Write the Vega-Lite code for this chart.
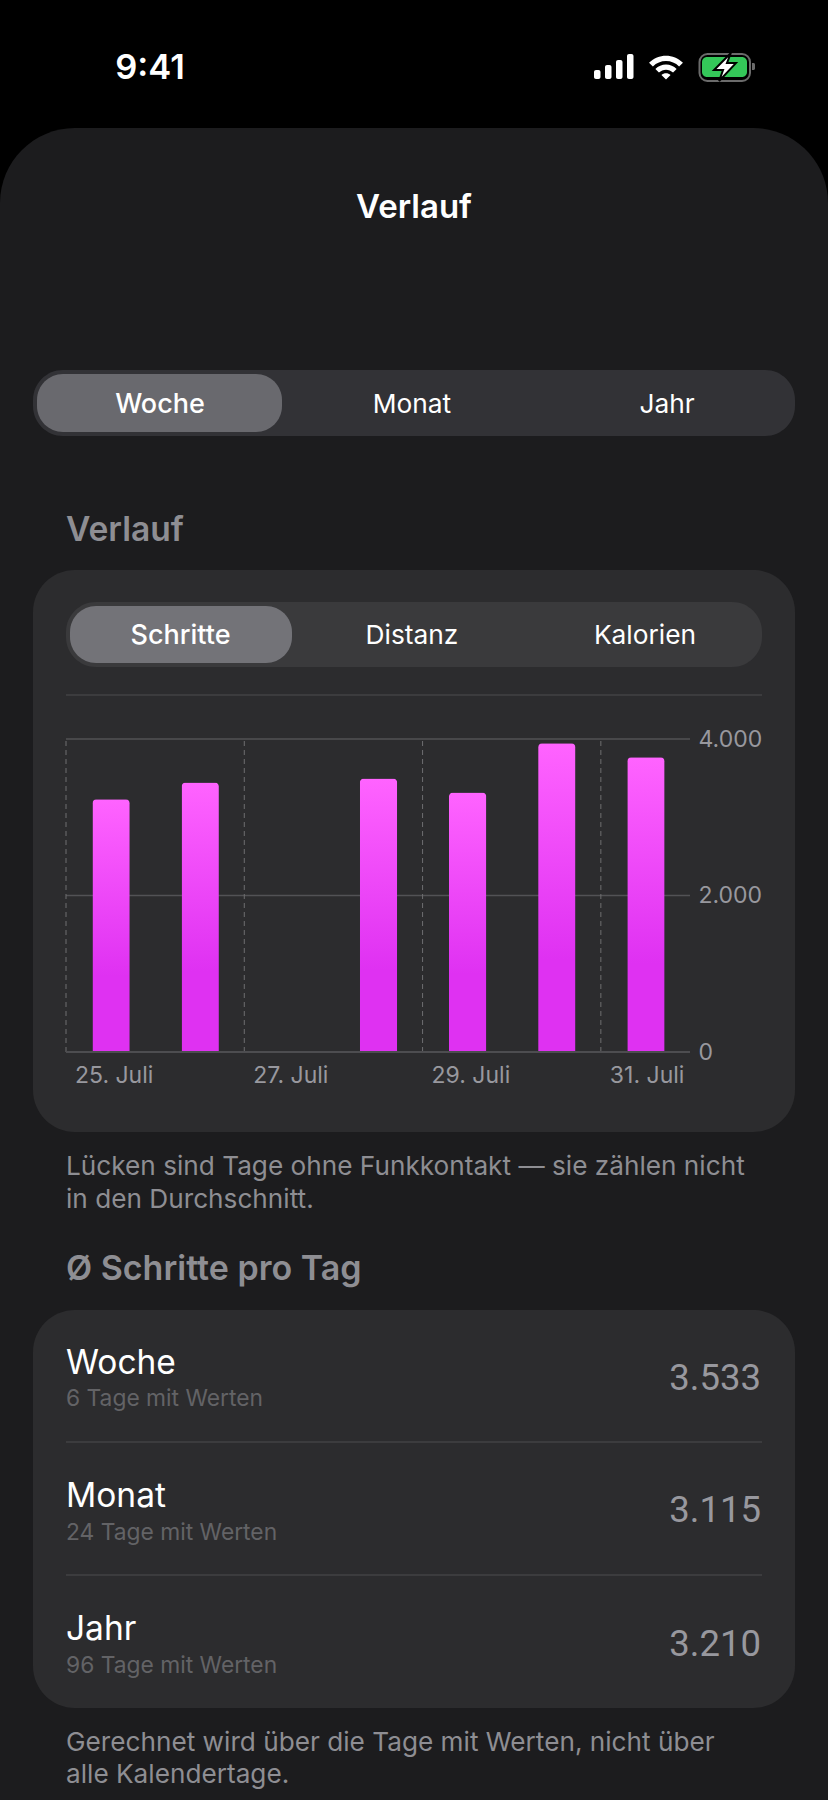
{
  "$schema": "https://vega.github.io/schema/vega-lite/v6.json",
  "width": 828,
  "height": 1800,
  "autosize": {"type": "fit", "contains": "padding"},
  "padding": 0,
  "background": "#000000",
  "config": {"view": {"stroke": null}, "font": "Inter", "text": {"baseline": "alphabetic"}},
  "resolve": {"scale": {"x": "independent", "y": "independent"}},
  "layer": [
    {
      "encoding": {
        "x": {"field": "sp", "type": "quantitative", "axis": null, "scale": {"nice": false, "domain": [1,2,3,4,5,6,7,8,9,10,11,12,13,14,15,16,17,18,19,20,21,22,23,24,25,26,27,28,29,30,31,32,33,34], "range": [0,33,37,66,70,150,160,180.5,282,292,412,414,594,600.5,605,611.5,616,622.5,627,633.5,645,666,667,699.5,702,725,747,750,752,755,761,762,795,828]}},
        "y": {"field": "ze", "type": "quantitative", "axis": null, "scale": {"nice": false, "domain": [1,2,3,4,5,6,7,8,9,10,11,12,13,14,15,16,17,18,19,20,21,22,23,24,25,26,27,28,29,30,31,32,33,34,35,36,37,38,39,40,41,42,43,44,45], "range": [54,57,60,63,65,67,70,77,79,81,128,218,370,374,412.5,432,436,541,570,602,606,644,663,667,695,1132,1175,1208,1280,1310,1374,1390,1406,1442,1507,1522,1540,1575,1640,1656,1673,1708,1751,1783,1800]}}
      },
      "layer": [
        {
          "data": {"values": [{"sp": 1, "sp2": 34, "ze": 11, "ze2": 45}]},
          "mark": {"type": "rect", "color": "#1C1C1E", "cornerRadiusTopLeft": 75, "cornerRadiusTopRight": 75},
          "encoding": {"x2": {"field": "sp2"}, "y2": {"field": "ze2"}}
        },
        {
          "data": {"values": [{"sp": 2, "sp2": 33, "ze": 19, "ze2": 26}, {"sp": 2, "sp2": 33, "ze": 30, "ze2": 42}]},
          "mark": {"type": "rect", "color": "#2C2C2E", "cornerRadius": 42},
          "encoding": {"x2": {"field": "sp2"}, "y2": {"field": "ze2"}}
        },
        {
          "data": {"values": [{"sp": 2, "sp2": 33, "ze": 13, "ze2": 17}]},
          "mark": {"type": "rect", "color": "#323236", "cornerRadius": 30},
          "encoding": {"x2": {"field": "sp2"}, "y2": {"field": "ze2"}}
        },
        {
          "data": {"values": [{"sp": 3, "sp2": 9, "ze": 14, "ze2": 16}]},
          "mark": {"type": "rect", "color": "#69696E", "cornerRadius": 26},
          "encoding": {"x2": {"field": "sp2"}, "y2": {"field": "ze2"}}
        },
        {
          "data": {"values": [{"sp": 4, "sp2": 32, "ze": 20, "ze2": 24}]},
          "mark": {"type": "rect", "color": "#3A3A3C", "cornerRadius": 30},
          "encoding": {"x2": {"field": "sp2"}, "y2": {"field": "ze2"}}
        },
        {
          "data": {"values": [{"sp": 5, "sp2": 10, "ze": 21, "ze2": 23}]},
          "mark": {"type": "rect", "color": "#737378", "cornerRadius": 26},
          "encoding": {"x2": {"field": "sp2"}, "y2": {"field": "ze2"}}
        },
        {
          "data": {"values": [{"sp": 4, "sp2": 32, "ze": 25}, {"sp": 4, "sp2": 32, "ze": 34}, {"sp": 4, "sp2": 32, "ze": 38}]},
          "mark": {"type": "rule", "color": "#424245", "strokeWidth": 1.5},
          "encoding": {"x2": {"field": "sp2"}}
        },
        {
          "data": {"values": [{"t": "9:41", "sp": 6, "ze": 9}]},
          "mark": {"type": "text", "align": "center", "fontSize": 34.5, "fontWeight": 600, "color": "#FFFFFF"},
          "encoding": {"text": {"field": "t", "type": "nominal"}}
        },
        {
          "data": {"values": [{"t": "Verlauf", "sp": 12, "ze": 12}]},
          "mark": {"type": "text", "align": "center", "fontSize": 33, "fontWeight": 600, "color": "#FFFFFF"},
          "encoding": {"text": {"field": "t", "type": "nominal"}}
        },
        {
          "data": {"values": [{"t": "Woche", "sp": 7, "ze": 15}, {"t": "Schritte", "sp": 8, "ze": 22}]},
          "mark": {"type": "text", "align": "center", "fontSize": 27, "fontWeight": 500, "color": "#FFFFFF"},
          "encoding": {"text": {"field": "t", "type": "nominal"}}
        },
        {
          "data": {"values": [{"t": "Monat", "sp": 11, "ze": 15}, {"t": "Jahr", "sp": 23, "ze": 15}, {"t": "Distanz", "sp": 11, "ze": 22}, {"t": "Kalorien", "sp": 21, "ze": 22}]},
          "mark": {"type": "text", "align": "center", "fontSize": 26.3, "fontWeight": 400, "color": "#FFFFFF"},
          "encoding": {"text": {"field": "t", "type": "nominal"}}
        },
        {
          "data": {"values": [{"t": "Verlauf", "sp": 4, "ze": 18}]},
          "mark": {"type": "text", "align": "left", "fontSize": 33.6, "fontWeight": 600, "color": "#8E8E93"},
          "encoding": {"text": {"field": "t", "type": "nominal"}}
        },
        {
          "data": {"values": [{"t": "Ø Schritte pro Tag", "sp": 4, "ze": 29}]},
          "mark": {"type": "text", "align": "left", "fontSize": 34, "fontWeight": 600, "color": "#8E8E93"},
          "encoding": {"text": {"field": "t", "type": "nominal"}}
        },
        {
          "data": {"values": [{"t": "Lücken sind Tage ohne Funkkontakt — sie zählen nicht", "sp": 4, "ze": 27}, {"t": "in den Durchschnitt.", "sp": 4, "ze": 28}, {"t": "Gerechnet wird über die Tage mit Werten, nicht über", "sp": 4, "ze": 43}, {"t": "alle Kalendertage.", "sp": 4, "ze": 44}]},
          "mark": {"type": "text", "align": "left", "fontSize": 26.2, "color": "#8E8E93"},
          "encoding": {"text": {"field": "t", "type": "nominal"}}
        },
        {
          "data": {"values": [{"t": "Woche", "sp": 4, "ze": 31}, {"t": "Monat", "sp": 4, "ze": 35}, {"t": "Jahr", "sp": 4, "ze": 39}]},
          "mark": {"type": "text", "align": "left", "fontSize": 33.5, "color": "#FFFFFF"},
          "encoding": {"text": {"field": "t", "type": "nominal"}}
        },
        {
          "data": {"values": [{"t": "6 Tage mit Werten", "sp": 4, "ze": 33}, {"t": "24 Tage mit Werten", "sp": 4, "ze": 37}, {"t": "96 Tage mit Werten", "sp": 4, "ze": 41}]},
          "mark": {"type": "text", "align": "left", "fontSize": 22.8, "color": "#636366"},
          "encoding": {"text": {"field": "t", "type": "nominal"}}
        },
        {
          "data": {"values": [{"t": "3.533", "sp": 31, "ze": 32}, {"t": "3.115", "sp": 31, "ze": 36}, {"t": "3.210", "sp": 31, "ze": 40}]},
          "mark": {"type": "text", "align": "right", "font": "Roboto", "fontSize": 36.5, "color": "#98989E"},
          "encoding": {"text": {"field": "t", "type": "nominal"}}
        },
        {
          "data": {"values": [{"sp": 13, "sp2": 14, "ze": 7, "ze2": 9}, {"sp": 15, "sp2": 16, "ze": 5, "ze2": 9}, {"sp": 17, "sp2": 18, "ze": 3, "ze2": 9}, {"sp": 19, "sp2": 20, "ze": 1, "ze2": 9}]},
          "mark": {"type": "rect", "color": "#FFFFFF", "cornerRadius": 2},
          "encoding": {"x2": {"field": "sp2"}, "y2": {"field": "ze2"}}
        },
        {
          "data": {"values": [{"sp": 22, "ze": 6.2}]},
          "mark": {"type": "point", "filled": true, "opacity": 1, "color": "#FFFFFF", "size": 4356, "shape": "M0 .364 L-.139 .225 A.197 .197 0 0 1 .139 .225 Z M-.214 .15 A.303 .303 0 0 1 .214 .15 L.322 .042 A.455 .455 0 0 0 -.322 .042 Z M-.397 -.033 A.561 .561 0 0 1 .397 -.033 L.514 -.15 A.727 .727 0 0 0 -.514 -.15 Z"}
        },
        {
          "data": {"values": [{"sp": 24, "sp2": 28, "ze": 1, "ze2": 10}]},
          "mark": {"type": "rect", "fill": null, "stroke": "#6B6B6B", "strokeWidth": 2, "cornerRadius": 8},
          "encoding": {"x2": {"field": "sp2"}, "y2": {"field": "ze2"}}
        },
        {
          "data": {"values": [{"sp": 25, "sp2": 27, "ze": 2, "ze2": 8}]},
          "mark": {"type": "rect", "color": "#34C759", "cornerRadius": 5},
          "encoding": {"x2": {"field": "sp2"}, "y2": {"field": "ze2"}}
        },
        {
          "data": {"values": [{"sp": 29, "sp2": 30, "ze": 4, "ze2": 7}]},
          "mark": {"type": "rect", "color": "#6B6B6B", "cornerRadiusTopRight": 3, "cornerRadiusBottomRight": 3},
          "encoding": {"x2": {"field": "sp2"}, "y2": {"field": "ze2"}}
        },
        {
          "data": {"values": [{"sp": 26, "ze": 6}]},
          "mark": {"type": "point", "filled": true, "opacity": 1, "fill": "#FFFFFF", "stroke": "#000000", "strokeWidth": 2, "size": 3136, "shape": "M.21 -.5 L-.39 .11 L-.07 .11 L-.21 .5 L.39 -.14 L.07 -.14 Z"}
        }
      ]
    },
    {
      "layer": [
        {
          "data": {"values": [{"wert": 2000, "von": "2025-07-25T00:00:00", "bis": "2025-08-01T00:00:00"}, {"wert": 4000, "von": "2025-07-25T00:00:00", "bis": "2025-08-01T00:00:00"}]},
          "mark": {"type": "rule", "color": "#525255", "strokeWidth": 1.5},
          "encoding": {
            "x": {"field": "von", "type": "temporal", "scale": {"domain": [{"year": 2025, "month": 7, "date": 25}, {"year": 2025, "month": 8, "date": 1}], "range": [66, 690], "nice": false}},
            "x2": {"field": "bis"},
            "y": {"field": "wert", "type": "quantitative", "scale": {"domain": [0, 4000], "range": [1052, 739], "nice": false},
              "axis": {"orient": "right", "offset": -138, "title": null, "values": [0, 2000, 4000], "grid": false, "domain": false, "ticks": false, "labelPadding": 8, "labelAlign": "left", "labelBaseline": "middle", "labelFont": "Inter", "labelFontSize": 23, "labelColor": "#98989E", "labelExpr": "replace(format(datum.value, ','), ',', '.')", "zindex": 1}}
          }
        },
        {
          "data": {"values": [{"tag": "2025-07-25T00:00:00", "unten": 0, "oben": 4000}, {"tag": "2025-07-27T00:00:00", "unten": 0, "oben": 4000}, {"tag": "2025-07-29T00:00:00", "unten": 0, "oben": 4000}, {"tag": "2025-07-31T00:00:00", "unten": 0, "oben": 4000}]},
          "mark": {"type": "rule", "color": "#6E6E70", "strokeWidth": 1, "strokeDash": [5, 4]},
          "encoding": {
            "x": {"field": "tag", "type": "temporal", "scale": {"domain": [{"year": 2025, "month": 7, "date": 25}, {"year": 2025, "month": 8, "date": 1}], "range": [66, 690], "nice": false},
              "axis": {"orient": "bottom", "offset": -748, "title": null, "values": [{"year": 2025, "month": 7, "date": 25}, {"year": 2025, "month": 7, "date": 27}, {"year": 2025, "month": 7, "date": 29}, {"year": 2025, "month": 7, "date": 31}], "format": "%-d. Juli", "grid": false, "domain": false, "ticks": false, "labelPadding": 12, "labelAlign": "left", "labelOffset": 8.5, "labelBound": false, "labelFlush": false, "labelOverlap": false, "labelFont": "Inter", "labelFontSize": 23, "labelColor": "#98989E", "zindex": 1}},
            "y": {"field": "unten", "type": "quantitative", "scale": {"domain": [0, 4000], "range": [1052, 739], "nice": false}},
            "y2": {"field": "oben"}
          }
        },
        {
          "data": {"values": [
            {"tag": "2025-07-25T00:00:00", "schritte": 3230},
            {"tag": "2025-07-26T00:00:00", "schritte": 3445},
            {"tag": "2025-07-28T00:00:00", "schritte": 3495},
            {"tag": "2025-07-29T00:00:00", "schritte": 3315},
            {"tag": "2025-07-30T00:00:00", "schritte": 3945},
            {"tag": "2025-07-31T00:00:00", "schritte": 3768}
          ]},
          "mark": {"type": "bar", "width": {"band": 0.43}, "cornerRadiusTopLeft": 4, "cornerRadiusTopRight": 4,
            "color": {"gradient": "linear", "x1": 0, "y1": 0, "x2": 0, "y2": 1, "stops": [{"offset": 0, "color": "#FF63FF"}, {"offset": 0.7, "color": "#DF31F2"}, {"offset": 1, "color": "#DF31F2"}]}},
          "encoding": {
            "x": {"field": "tag", "type": "temporal", "timeUnit": "yearmonthdate", "scale": {"domain": [{"year": 2025, "month": 7, "date": 25}, {"year": 2025, "month": 8, "date": 1}], "range": [66, 690], "nice": false}},
            "y": {"field": "schritte", "type": "quantitative", "scale": {"domain": [0, 4000], "range": [1052, 739], "nice": false}}
          }
        },
        {
          "data": {"values": [{"wert": 0, "von": "2025-07-25T00:00:00", "bis": "2025-08-01T00:00:00"}]},
          "mark": {"type": "rule", "color": "#4D4D50", "strokeWidth": 2},
          "encoding": {
            "x": {"field": "von", "type": "temporal", "scale": {"domain": [{"year": 2025, "month": 7, "date": 25}, {"year": 2025, "month": 8, "date": 1}], "range": [66, 690], "nice": false}},
            "x2": {"field": "bis"},
            "y": {"field": "wert", "type": "quantitative", "scale": {"domain": [0, 4000], "range": [1052, 739], "nice": false}}
          }
        }
      ]
    }
  ]
}
